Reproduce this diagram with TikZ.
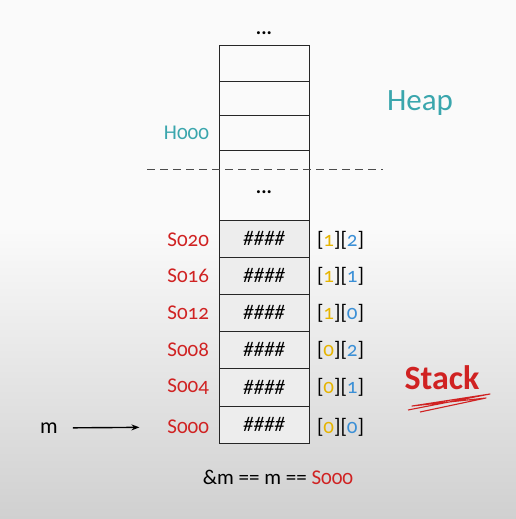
\documentclass[tikz,border=0pt]{standalone}
\usepackage{fontspec}
\usetikzlibrary{arrows.meta}
\setmainfont{Carlito}[Numbers=OldStyle]
\definecolor{bgtop}{HTML}{FAFAFA}
\definecolor{bgbot}{HTML}{D0D0D0}
\definecolor{addrred}{HTML}{D02222}
\definecolor{heapteal}{HTML}{3AA6AD}
\definecolor{idxone}{HTML}{E6B400}
\definecolor{idxtwo}{HTML}{3A8FD6}
\newcommand{\idx}[2]{[{\color{idxone}#1}][{\color{idxtwo}#2}]}

\begin{document}
\begin{tikzpicture}[
          x=1pt, y=-1pt,
          every node/.style={inner sep=0pt, outer sep=0pt},
          cell/.style={draw=black!85, line width=0.9pt, minimum width=90pt, anchor=north},
          heapcell/.style={cell},
          stackcell/.style={cell, fill=black!7, minimum height=37pt, font=\fontsize{21}{23}\selectfont\itshape},
          addr/.style={anchor=east, text=addrred, font=\fontsize{21}{24}\selectfont},
          index/.style={anchor=west, font=\fontsize{21}{24}\selectfont},
          title/.style={font=\fontsize{31}{34}\selectfont},
          ptr/.style={-{Stealth[length=8pt, width=6pt]}, line width=1.4pt}
        ]

        % Background
        \fill[bgtop] (0,0) rectangle (516,232);
        \shade[top color=bgtop, bottom color=bgbot] (0,230) rectangle (516,519);

        % Heap part
        \node[font=\fontsize{20}{22}\selectfont\bfseries] (topdots) at (264,33) {...};
        \node[heapcell, minimum height=36pt] (h1) at (264,45) {};
        \node[heapcell, minimum height=34pt] (h2) at (264,81) {};
        \node[heapcell, minimum height=35pt] (h3) at (264,115) {};
        \node[heapcell, minimum height=70pt] (hgap) at (264,150) {};
        \node[font=\fontsize{20}{22}\selectfont\bfseries] (gapdots) at (264,192) {...};
        \node[anchor=east, text=heapteal, font=\fontsize{21}{24}\selectfont] (h000) at (209,133) {H000};
        \node[title, text=heapteal] (heap) at (420,103) {Heap};

        % Split between heap and stack
        \coordinate (splitl) at (147,169);
        \coordinate (splitr) at (383,169);
        \draw[black!70, line width=0.9pt, dash pattern=on 8pt off 5pt] (splitl) -- (splitr);

        % Stack part
        \node[stackcell] (s20) at (264,220) {\#\#\#\#};
        \node[stackcell] (s16) at (264,257) {\#\#\#\#};
        \node[stackcell] (s12) at (264,294) {\#\#\#\#};
        \node[stackcell] (s08) at (264,331) {\#\#\#\#};
        \node[stackcell, minimum height=38pt] (s04) at (264,368) {\#\#\#\#};
        \node[stackcell] (s00) at (264,406) {\#\#\#\#};

        % Addresses
        \node[addr] (a20) at (209,240) {S020};
        \node[addr] (a16) at (209,276) {S016};
        \node[addr] (a12) at (209,313) {S012};
        \node[addr] (a08) at (209,350) {S008};
        \node[addr] (a04) at (209,387) {S004};
        \node[addr] (a00) at (209,427) {S000};

        % Indices
        \node[index] (i20) at (317,240) {\idx{1}{2}};
        \node[index] (i16) at (317,276) {\idx{1}{1}};
        \node[index] (i12) at (317,313) {\idx{1}{0}};
        \node[index] (i08) at (317,350) {\idx{0}{2}};
        \node[index] (i04) at (317,387) {\idx{0}{1}};
        \node[index] (i00) at (317,427) {\idx{0}{0}};

        \node[text=addrred, font=\fontsize{34}{36}\selectfont\bfseries] (stack) at (442,378) {Stack};
        \draw[addrred, line width=1.1pt, line join=round]
          (408,410) -- (490,394) -- (412,406) -- (486,398) -- (420,412);

        % Pointer m
        \node[font=\fontsize{22}{24}\selectfont, inner sep=3pt] (m) at (49,428) {m};
        \draw[ptr, shorten <=12pt, shorten >=28pt] (m) -- (a00);

        \node[font=\fontsize{21}{24}\selectfont] (eq) at (278,477) {\&m == m == {\color{addrred}S000}};

      \end{tikzpicture}
\end{document}
